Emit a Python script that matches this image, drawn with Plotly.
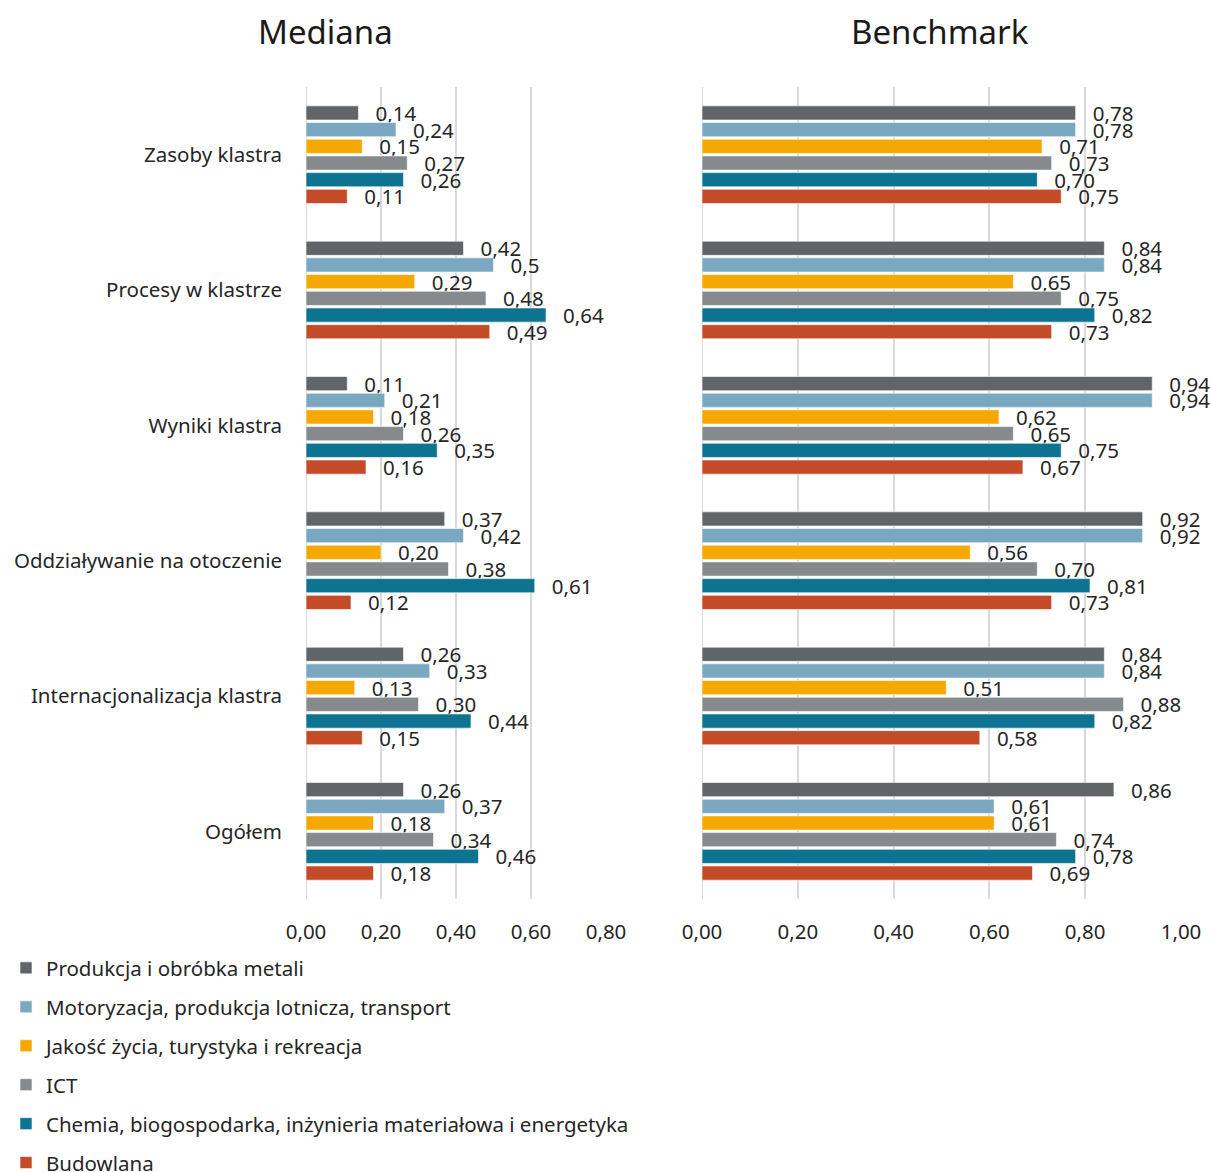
import plotly.graph_objects as go

W, H = 1211, 1172

categories = [
    "Zasoby klastra",
    "Procesy w klastrze",
    "Wyniki klastra",
    "Oddziaływanie na otoczenie",
    "Internacjonalizacja klastra",
    "Ogółem",
]

series_names = [
    "Produkcja i obróbka metali",
    "Motoryzacja, produkcja lotnicza, transport",
    "Jakość życia, turystyka i rekreacja",
    "ICT",
    "Chemia, biogospodarka, inżynieria materiałowa i energetyka",
    "Budowlana",
]

series_colors = ["#616568", "#7aa8c0", "#f5a800", "#868a8d", "#0e7391", "#c44b27"]

# Data labels as printed (Polish decimal comma); bar lengths are parsed from them
mediana_produkcja = ["0,14", "0,42", "0,11", "0,37", "0,26", "0,26"]
mediana_motoryzacja = ["0,24", "0,5", "0,21", "0,42", "0,33", "0,37"]
mediana_jakosc = ["0,15", "0,29", "0,18", "0,20", "0,13", "0,18"]
mediana_ict = ["0,27", "0,48", "0,26", "0,38", "0,30", "0,34"]
mediana_chemia = ["0,26", "0,64", "0,35", "0,61", "0,44", "0,46"]
mediana_budowlana = ["0,11", "0,49", "0,16", "0,12", "0,15", "0,18"]

benchmark_produkcja = ["0,78", "0,84", "0,94", "0,92", "0,84", "0,86"]
benchmark_motoryzacja = ["0,78", "0,84", "0,94", "0,92", "0,84", "0,61"]
benchmark_jakosc = ["0,71", "0,65", "0,62", "0,56", "0,51", "0,61"]
benchmark_ict = ["0,73", "0,75", "0,65", "0,70", "0,88", "0,74"]
benchmark_chemia = ["0,70", "0,82", "0,75", "0,81", "0,82", "0,78"]
benchmark_budowlana = ["0,75", "0,73", "0,67", "0,73", "0,58", "0,69"]

mediana = [mediana_produkcja, mediana_motoryzacja, mediana_jakosc,
           mediana_ict, mediana_chemia, mediana_budowlana]
benchmark = [benchmark_produkcja, benchmark_motoryzacja, benchmark_jakosc,
             benchmark_ict, benchmark_chemia, benchmark_budowlana]

x_ticks_left = [0, 0.2, 0.4, 0.6, 0.8]
x_ticks_right = [0, 0.2, 0.4, 0.6, 0.8, 1.0]

FONT = "Noto Sans"
FS = 20.5
TXT = "#262626"
GRID = "#d9d9d9"
LABEL_PAD = "  \u2009"  # gap between bar end and its value label


def to_num(s):
    return float(s.replace(",", "."))


def px_x(p):
    return p / W


def px_y(p):
    return 1 - p / H


fig = go.Figure()

for panel, (data, xa, ya) in enumerate([(mediana, "x", "y"), (benchmark, "x2", "y2")]):
    for i, name in enumerate(series_names):
        labels = data[i]
        fig.add_trace(go.Bar(
            name=name,
            orientation="h",
            x=[to_num(s) for s in labels],
            y=categories,
            text=[LABEL_PAD + s for s in labels],
            textposition="outside",
            textfont=dict(family=FONT, size=FS, color=TXT),
            constraintext="none",
            cliponaxis=False,
            marker=dict(color=series_colors[i], line=dict(color="rgba(255,255,255,0.6)", width=1)),
            xaxis=xa,
            yaxis=ya,
            legendgroup=name,
            showlegend=(panel == 0),
            hoverinfo="skip",
        ))

y_top, y_bot = 87, 899
axis_common = dict(
    showgrid=True, gridcolor=GRID, gridwidth=2,
    zeroline=False, showline=False, ticks="",
    tickformat=".2f", ticklabelstandoff=18,
    tickfont=dict(family=FONT, size=FS, color=TXT),
    fixedrange=True,
)

fig.update_layout(
    width=W, height=H,
    margin=dict(l=0, r=0, t=0, b=0, autoexpand=False),
    paper_bgcolor="white", plot_bgcolor="white",
    separators=", ",
    barmode="group", bargap=0.26, bargroupgap=0.15,
    xaxis=dict(domain=[px_x(306), px_x(606)], range=[0, 0.8],
               tickvals=x_ticks_left, anchor="y", **axis_common),
    xaxis2=dict(domain=[px_x(702), px_x(1181)], range=[0, 1.0],
                tickvals=x_ticks_right, anchor="y2", **axis_common),
    yaxis=dict(domain=[px_y(y_bot), px_y(y_top)], autorange="reversed",
               showgrid=False, zeroline=False, showline=False, ticks="",
               ticklabelstandoff=23,
               tickfont=dict(family=FONT, size=FS, color=TXT), anchor="x"),
    yaxis2=dict(domain=[px_y(y_bot), px_y(y_top)], autorange="reversed",
                showgrid=False, zeroline=False, showline=False,
                showticklabels=False, anchor="x2"),
    legend=dict(
        orientation="v", x=px_x(6), xanchor="left",
        y=px_y(948), yanchor="top",
        font=dict(family=FONT, size=FS, color=TXT),
        tracegroupgap=9.3, itemclick=False, itemdoubleclick=False,
        bgcolor="rgba(0,0,0,0)",
    ),
    annotations=[
        dict(text="Mediana", x=px_x(325), y=px_y(32), xref="paper", yref="paper",
             xanchor="center", yanchor="middle",
             showarrow=False, font=dict(family=FONT, size=33, color="#1a1a1a")),
        dict(text="Benchmark", x=px_x(940), y=px_y(32), xref="paper", yref="paper",
             xanchor="center", yanchor="middle",
             showarrow=False, font=dict(family=FONT, size=33, color="#1a1a1a")),
    ],
)

# vertical line at zero for each panel, styled like the grid
fig.add_shape(type="line", xref="x", yref="paper", x0=0, x1=0,
              y0=px_y(y_bot), y1=px_y(y_top), line=dict(color=GRID, width=2), layer="below")
fig.add_shape(type="line", xref="x2", yref="paper", x0=0, x1=0,
              y0=px_y(y_bot), y1=px_y(y_top), line=dict(color=GRID, width=2), layer="below")

fig.write_html("out.html")
